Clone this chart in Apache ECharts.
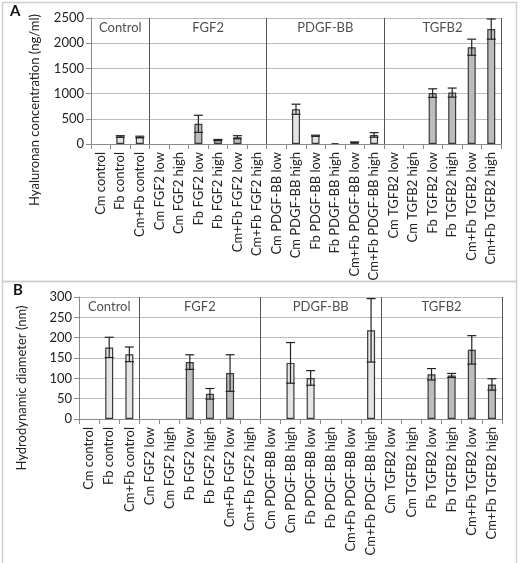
<!DOCTYPE html>
<html><head><meta charset="utf-8">
<script src="https://cdn.jsdelivr.net/npm/echarts@6/dist/echarts.min.js"></script>
<style>html,body{margin:0;padding:0;background:#fff}#c{width:520px;height:563px}</style>
</head><body><div id="c"></div>
<script>
var categories = ["Cm control","Fb control","Cm+Fb control",
  "Cm FGF2 low","Cm FGF2 high","Fb FGF2 low","Fb FGF2 high","Cm+Fb FGF2 low","Cm+Fb FGF2 high",
  "Cm PDGF-BB low","Cm PDGF-BB high","Fb PDGF-BB low","Fb PDGF-BB high","Cm+Fb PDGF-BB low","Cm+Fb PDGF-BB high",
  "Cm TGFB2 low","Cm TGFB2 high","Fb TGFB2 low","Fb TGFB2 high","Cm+Fb TGFB2 low","Cm+Fb TGFB2 high"];
var groupNames = ["Control","FGF2","PDGF-BB","TGFB2"];
var groupStart = [0,3,9,15];
var groupEnd = [3,9,15,21];
var hyaluronan = [0,150,140, 0,0,400,80,135,0, 0,690,165,20,35,180, 0,0,1010,1020,1920,2280];
var hyaluronanErr = [0,15,15, 0,0,170,10,30,0, 0,100,10,0,5,45, 0,0,85,90,160,200];
var diameter = [0,176,159, 0,0,140,62,113,0, 0,138,101,0,0,218, 0,0,110,107,170,85];
var diameterErr = [0,25,18, 0,0,18,13,45,0, 0,50,18,0,0,78, 0,0,14,5,35,14];
var yTicksA = [0,500,1000,1500,2000,2500];
var yTicksB = [0,50,100,150,200,250,300];

var FONT = 'Lato';
var light = '#e4e4e4', dark = '#bcbcbc', edge = '#3a3a3a';
function groupOf(i){ for (var g=0; g<4; g++) if (i>=groupStart[g] && i<groupEnd[g]) return g; return 0; }
function fillOf(i){ var g = groupOf(i); return (g===1||g===3) ? dark : light; }

function barSeries(vals, axisIdx){
  return {type:'bar', xAxisIndex:axisIdx*2, yAxisIndex:axisIdx, barWidth:8,
    data: vals.map(function(v,i){ return {value: v===0? null : v, itemStyle:{color: fillOf(i)}}; }),
    itemStyle:{borderColor:edge, borderWidth:1.2}, z:3};
}
function errSeries(vals, errs, axisIdx){
  var d = [];
  vals.forEach(function(v,i){ if (v && errs[i]) d.push([i, v, errs[i]]); });
  return {type:'custom', xAxisIndex:axisIdx*2, yAxisIndex:axisIdx, z:5,
    renderItem: function(params, api){
      var x = api.value(0), v = api.value(1), e = api.value(2);
      var hi = api.coord([x, v+e]), lo = api.coord([x, v-e]);
      var w = 4.5, st = {stroke:'#222', lineWidth:1.2};
      return {type:'group', children:[
        {type:'line', shape:{x1:hi[0],y1:hi[1],x2:lo[0],y2:lo[1]}, style:st},
        {type:'line', shape:{x1:hi[0]-w,y1:hi[1],x2:hi[0]+w,y2:hi[1]}, style:st},
        {type:'line', shape:{x1:lo[0]-w,y1:lo[1],x2:lo[0]+w,y2:lo[1]}, style:st}
      ]};
    },
    data: d};
}
function labelSeries(yv, axisIdx){
  return {type:'scatter', xAxisIndex:axisIdx*2+1, yAxisIndex:axisIdx, symbolSize:1, silent:true,
    itemStyle:{color:'rgba(0,0,0,0)'},
    label:{show:true, position:'inside', color:'#222', fontFamily:FONT, fontSize:13, formatter:'{b}'},
    data: groupNames.map(function(n,g){ return {name:n, value:[(groupStart[g]+groupEnd[g])/2, yv]}; })};
}
function catAxis(gi){
  return {type:'category', gridIndex:gi, data:categories,
    axisLine:{lineStyle:{color:'#8a8a8a'}},
    axisTick:{show:true, length:5, lineStyle:{color:'#8a8a8a'}},
    axisLabel:{rotate:90, interval:0, fontFamily:FONT, fontSize:13, color:'#222', margin:8},
    splitLine:{show:true, interval:function(i){ return i===3||i===9||i===15; }, lineStyle:{color:'#555', width:1}}};
}
function hidAxis(gi){ return {type:'value', gridIndex:gi, min:0, max:21, show:false}; }
function valAxis(gi, max, step){
  return {type:'value', gridIndex:gi, min:0, max:max, interval:step,
    axisLine:{show:true, lineStyle:{color:'#8a8a8a'}},
    axisTick:{show:true, length:5, lineStyle:{color:'#8a8a8a'}},
    axisLabel:{fontFamily:FONT, fontSize:13, color:'#222', margin:7, formatter:function(v){ return String(v); }},
    splitLine:{lineStyle:{color:'#bdbdbd'}}};
}

var chart = echarts.init(document.getElementById('c'));
chart.setOption({
  animation:false,
  grid:[{left:91, top:18, width:410, height:126},{left:79, top:297, width:423, height:122}],
  xAxis:[catAxis(0), hidAxis(0), catAxis(1), hidAxis(1)],
  yAxis:[valAxis(0, yTicksA[yTicksA.length-1], yTicksA[1]-yTicksA[0]), valAxis(1, yTicksB[yTicksB.length-1], yTicksB[1]-yTicksB[0])],
  series:[barSeries(hyaluronan,0), errSeries(hyaluronan,hyaluronanErr,0), labelSeries(2300,0),
          barSeries(diameter,1), errSeries(diameter,diameterErr,1), labelSeries(277,1)],
  graphic:[
    {type:'rect', shape:{x:2.5,y:2.5,width:514,height:279}, style:{fill:'none', stroke:'#cfcfcf', lineWidth:1.5}, silent:true},
    {type:'rect', shape:{x:2.5,y:281.5,width:514,height:300}, style:{fill:'none', stroke:'#cfcfcf', lineWidth:1.5}, silent:true},
    {type:'text', x:10, y:4, style:{text:'A', font:'bold 15px '+FONT, fill:'#111'}},
    {type:'text', x:13, y:283, style:{text:'B', font:'bold 15px '+FONT, fill:'#111'}},
    {type:'text', x:35, y:110, rotation:Math.PI/2, style:{text:'Hyaluronan concentration (ng/ml)', font:'13px '+FONT, fill:'#222', align:'center', verticalAlign:'middle'}},
    {type:'text', x:22, y:388, rotation:Math.PI/2, style:{text:'Hydrodynamic diameter (nm)', font:'13px '+FONT, fill:'#222', align:'center', verticalAlign:'middle'}}
  ]
});
</script></body></html>
